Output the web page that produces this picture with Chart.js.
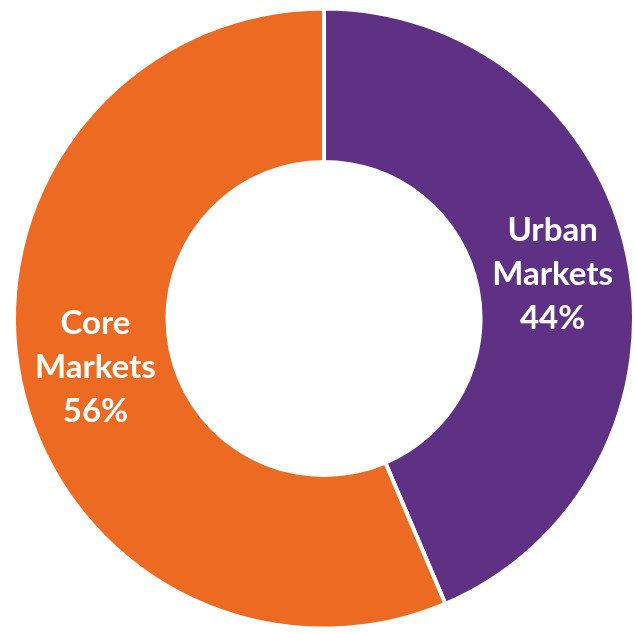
<!DOCTYPE html>
<html>
<head>
<meta charset="utf-8">
<script src="https://cdn.jsdelivr.net/npm/chart.js@4"></script>
<style>
html,body{margin:0;padding:0;background:#fff;}
canvas{display:block;}
</style>
</head>
<body>
<canvas id="c" width="636" height="634"></canvas>
<script>
const categories = ['Urban Markets', 'Core Markets'];
const shares = [43.6, 56.4];
const colors = ['#5F3184', '#EC6A22'];

const labelPlugin = {
  id: 'ringLabels',
  afterDatasetsDraw(chart) {
    const ctx = chart.ctx;
    const meta = chart.getDatasetMeta(0);
    ctx.save();
    ctx.fillStyle = '#ffffff';
    ctx.font = 'bold 33px Lato';
    ctx.textAlign = 'center';
    ctx.textBaseline = 'middle';
    meta.data.forEach((arc, i) => {
      const p = arc.tooltipPosition();
      const lines = categories[i].split(' ').concat([Math.round(shares[i]) + '%']);
      const lh = 44;
      const y0 = p.y - lh * (lines.length - 1) / 2;
      lines.forEach((t, j) => ctx.fillText(t, p.x, y0 + j * lh + 2));
    });
    ctx.restore();
  }
};

new Chart(document.getElementById('c'), {
  type: 'doughnut',
  data: {
    labels: categories,
    datasets: [{
      data: shares,
      backgroundColor: colors,
      borderColor: '#ffffff',
      borderWidth: 4
    }]
  },
  options: {
    responsive: false,
    animation: false,
    cutout: '50.5%',
    layout: { padding: { left: 12, right: 0, top: 5, bottom: 2 } },
    plugins: { legend: { display: false }, tooltip: { enabled: false } }
  },
  plugins: [labelPlugin]
});
</script>
</body>
</html>
